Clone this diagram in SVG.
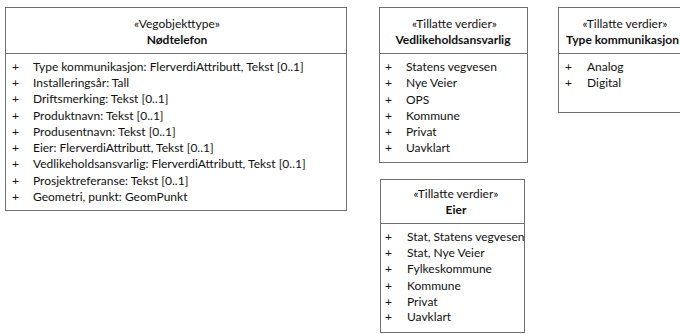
<svg xmlns="http://www.w3.org/2000/svg" width="680" height="334" viewBox="0 0 680 334">
<style>
.box{fill:#ffffff;stroke:#707070;stroke-width:1}
.t{font-family:Lato,"Liberation Sans",sans-serif;font-size:12px;fill:#111111}
.c{text-anchor:middle}
.b{font-weight:bold}
</style>
<rect width="680" height="334" fill="#ffffff"/>
<g id="nodtelefon">
<rect class="box" x="5.5" y="7.5" width="341" height="203"/>
<line class="box" x1="5.5" y1="53.5" x2="346.5" y2="53.5"/>
<text class="t c" x="177" y="28">«Vegobjekttype»</text>
<text class="t c b" x="177" y="43.5">Nødtelefon</text>
<g class="t">
<text x="12" y="71">+</text><text x="33" y="71">Type kommunikasjon: FlerverdiAttributt, Tekst [0..1]</text>
<text x="12" y="87">+</text><text x="33" y="87">Installeringsår: Tall</text>
<text x="12" y="103">+</text><text x="33" y="103">Driftsmerking: Tekst [0..1]</text>
<text x="12" y="119.5">+</text><text x="33" y="119.5">Produktnavn: Tekst [0..1]</text>
<text x="12" y="135.5">+</text><text x="33" y="135.5">Produsentnavn: Tekst [0..1]</text>
<text x="12" y="151.5">+</text><text x="33" y="151.5">Eier: FlerverdiAttributt, Tekst [0..1]</text>
<text x="12" y="168">+</text><text x="33" y="168">Vedlikeholdsansvarlig: FlerverdiAttributt, Tekst [0..1]</text>
<text x="12" y="184.5">+</text><text x="33" y="184.5">Prosjektreferanse: Tekst [0..1]</text>
<text x="12" y="200.5">+</text><text x="33" y="200.5">Geometri, punkt: GeomPunkt</text>
</g>
</g>
<g id="vedlikeholdsansvarlig">
<rect class="box" x="379.5" y="7.5" width="148" height="155"/>
<line class="box" x1="379.5" y1="53.5" x2="527.5" y2="53.5"/>
<text class="t c" x="454.5" y="28">«Tillatte verdier»</text>
<text class="t c b" x="453" y="43.5">Vedlikeholdsansvarlig</text>
<g class="t">
<text x="385" y="71">+</text><text x="406" y="71">Statens vegvesen</text>
<text x="385" y="87">+</text><text x="406" y="87">Nye Veier</text>
<text x="385" y="103.5">+</text><text x="406" y="103.5">OPS</text>
<text x="385" y="120">+</text><text x="406" y="120">Kommune</text>
<text x="385" y="136">+</text><text x="406" y="136">Privat</text>
<text x="385" y="152">+</text><text x="406" y="152">Uavklart</text>
</g>
</g>
<g id="type-kommunikasjon">
<rect class="box" x="558.5" y="7.5" width="140" height="105"/>
<line class="box" x1="558.5" y1="53.5" x2="698" y2="53.5"/>
<text class="t c" x="625" y="28">«Tillatte verdier»</text>
<text class="t c b" x="622.5" y="43.5">Type kommunikasjon</text>
<g class="t">
<text x="565" y="71">+</text><text x="587" y="71">Analog</text>
<text x="565" y="87">+</text><text x="587" y="87">Digital</text>
</g>
</g>
<g id="eier">
<rect class="box" x="380.5" y="179.5" width="144" height="153"/>
<line class="box" x1="380.5" y1="223.5" x2="524.5" y2="223.5"/>
<text class="t c" x="456" y="198">«Tillatte verdier»</text>
<text class="t c b" x="456" y="213.5">Eier</text>
<g class="t">
<text x="385" y="241">+</text><text x="407" y="241">Stat, Statens vegvesen</text>
<text x="385" y="257">+</text><text x="407" y="257">Stat, Nye Veier</text>
<text x="385" y="273">+</text><text x="407" y="273">Fylkeskommune</text>
<text x="385" y="289.5">+</text><text x="407" y="289.5">Kommune</text>
<text x="385" y="305.5">+</text><text x="407" y="305.5">Privat</text>
<text x="385" y="321">+</text><text x="407" y="321">Uavklart</text>
</g>
</g>
<g id="connectors"></g>
</svg>
